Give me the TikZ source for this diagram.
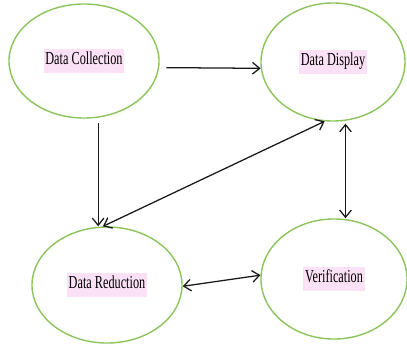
\documentclass[tikz,border=0pt]{standalone}
\usepackage{fontspec}
\setmainfont[FakeStretch=0.67]{Liberation Serif}
\usetikzlibrary{arrows.meta,shapes.geometric}
\definecolor{ringgreen}{RGB}{140,196,92}
\definecolor{labelpink}{RGB}{251,225,246}
\newcommand{\stagelabel}[1]{\raisebox{2pt}{\setlength{\fboxsep}{1.2pt}\colorbox{labelpink}{\strut #1}}}
\tikzset{
  stage/.style={ellipse,draw=ringgreen,line width=1pt,inner sep=0pt,
    font=\fontsize{13}{14}\selectfont},
  flow/.style={line width=0.9pt,draw=black!90},
  >={Straight Barb[length=1.8mm,width=2.9mm]}
}
\begin{document}
\begin{tikzpicture}[x=0.025cm,y=-0.025cm]
\useasboundingbox (0,0) rectangle (407,347);
\node[stage,minimum width=3.75cm,minimum height=2.85cm] (DC) at (84,61) {\stagelabel{Data Collection}};
\node[stage,minimum width=3.6cm,minimum height=2.95cm] (DD) at (333,62) {\stagelabel{Data Display}};
\node[stage,minimum width=3.75cm,minimum height=2.9cm] (DR) at (107,285) {\stagelabel{Data Reduction}};
\node[stage,minimum width=3.65cm,minimum height=3cm] (V) at (334,279) {\stagelabel{Verification}};
\path[flow]
  (DC.-5) edge [->, shorten <=5pt] (DD.185)
  (DC.-76) edge [->, shorten <=4pt] (DC.-76 |- DR.north)
  (DD.262) edge [<->] (DR.94)
  (DD.-78) edge [<->, shorten <=2pt] (DD.-78 |- V.north)
  (DR.-1) edge [<->] (V.177)
;
\end{tikzpicture}
\end{document}
